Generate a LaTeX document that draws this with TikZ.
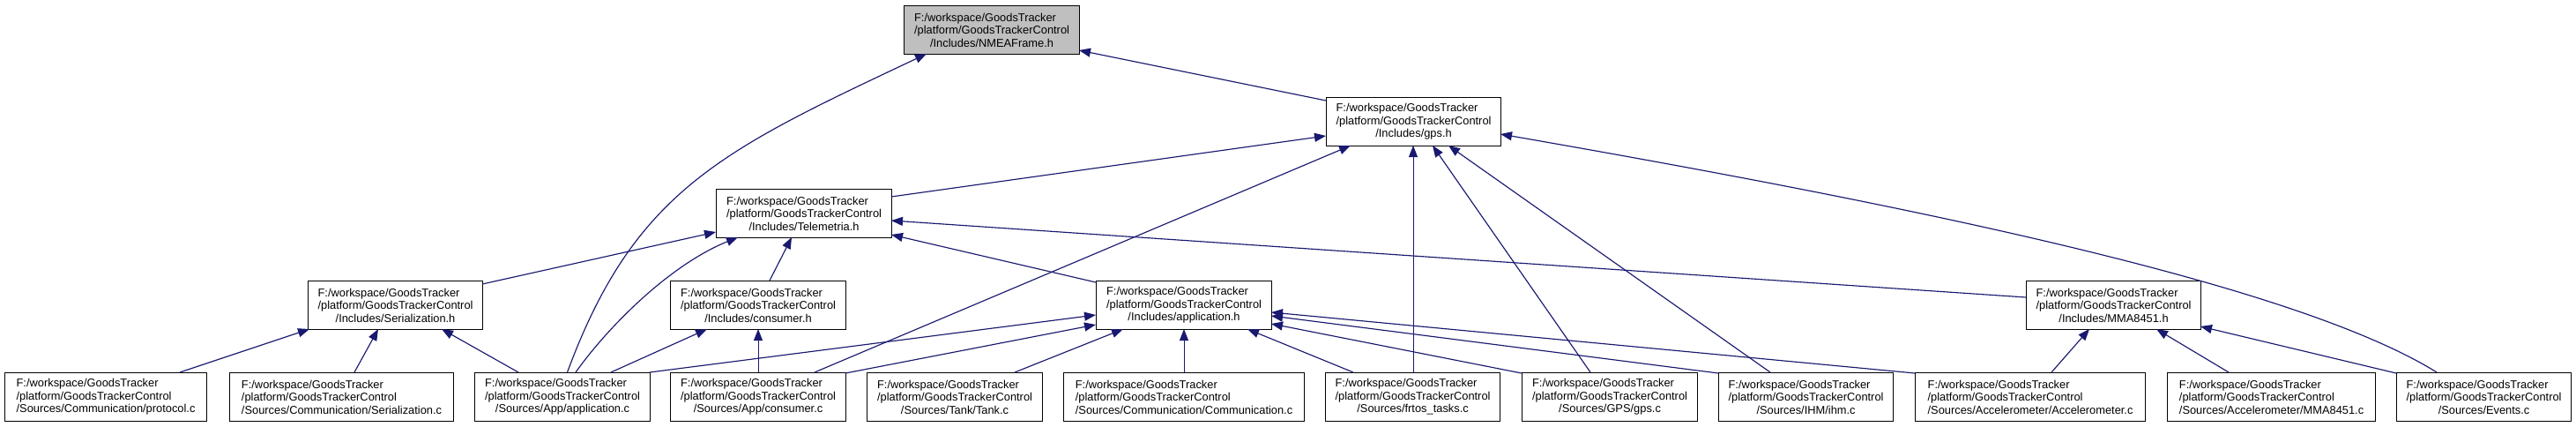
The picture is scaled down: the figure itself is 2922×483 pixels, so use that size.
\documentclass[tikz,border=0pt]{standalone}
\usepackage{fontspec}
\setmainfont{Liberation Sans}
\usetikzlibrary{arrows.meta,calc}
\definecolor{edgeblue}{HTML}{191970}
\definecolor{nodegray}{HTML}{BFBFBF}
\newlength\dwA
\newlength\dwB
\newcommand\dlab[1]{\settowidth\dwA{/platform/GoodsTrackerControl}\settowidth\dwB{#1}\ifdim\dwB>\dwA \dwA=\dwB\fi
  \begin{minipage}{\dwA}\baselineskip=14.5pt\parindent=0pt F:/workspace/GoodsTracker\\/platform/GoodsTrackerControl\par\centering #1\par\end{minipage}}
\begin{document}
\begin{tikzpicture}[x=1pt,y=-1pt,
  box/.style={draw=black, line width=1.1pt, fill=white, anchor=north west,
    minimum height=55pt, inner sep=0pt,
    font=\fontsize{12.85}{14.5}\selectfont},
  edge/.style={draw=edgeblue, line width=1.15pt, -{Triangle[length=13pt,width=10pt]}},
  vedge/.style={edge, line width=0.8pt}]
\fill[white] (0,0) rectangle (2922,483);
\useasboundingbox (0,0) rectangle (2922,483);
% headers
\node[box,fill=nodegray,minimum width=199pt] (nmea) at (1025,6) {\dlab{/Includes/NMEAFrame.h}};
\node[box,minimum width=198pt] (gps) at (1504,110) {\dlab{/Includes/gps.h}};
\node[box,minimum width=199pt] (tel) at (812,214) {\dlab{/Includes/Telemetria.h}};
\node[box,minimum width=198pt] (serh) at (349,318) {\dlab{/Includes/Serialization.h}};
\node[box,minimum width=199pt] (conh) at (760,318) {\dlab{/Includes/consumer.h}};
\node[box,minimum width=199pt] (apph) at (1243,318) {\dlab{/Includes/application.h}};
\node[box,minimum width=198pt] (mmah) at (2298,318) {\dlab{/Includes/MMA8451.h}};
% sources
\node[box,minimum width=229pt] (protc) at (5,422) {\dlab{/Sources/Communication/protocol.c}};
\node[box,minimum width=254pt] (serc) at (260,422) {\dlab{/Sources/Communication/Serialization.c}};
\node[box,minimum width=199pt] (appc) at (538,422) {\dlab{/Sources/App/application.c}};
\node[box,minimum width=199pt] (conc) at (760,422) {\dlab{/Sources/App/consumer.c}};
\node[box,minimum width=199pt] (tankc) at (983,422) {\dlab{/Sources/Tank/Tank.c}};
\node[box,minimum width=273pt] (commc) at (1206,422) {\dlab{/Sources/Communication/Communication.c}};
\node[box,minimum width=198pt] (frtc) at (1503,422) {\dlab{/Sources/frtos\_tasks.c}};
\node[box,minimum width=199pt] (gpsc) at (1726,422) {\dlab{/Sources/GPS/gps.c}};
\node[box,minimum width=198pt] (ihmc) at (1949,422) {\dlab{/Sources/IHM/ihm.c}};
\node[box,minimum width=261pt] (accc) at (2172,422) {\dlab{/Sources/Accelerometer/Accelerometer.c}};
\node[box,minimum width=236pt] (mmac) at (2458,422) {\dlab{/Sources/Accelerometer/MMA8451.c}};
\node[box,minimum width=198pt] (evc) at (2718,422) {\dlab{/Sources/Events.c}};
% edges to NMEAFrame.h
\draw[edge] ([shift={(0,4)}]gps.north west) -- ([shift={(199,51)}]nmea.north west);
\draw[edge] ([shift={(105.5,0)}]appc.north west) .. controls (720,215) and (820,170) .. ([shift={(26,55)}]nmea.north west);
% edges to gps.h
\draw[edge] ([shift={(199,9)}]tel.north west) -- ([shift={(0,44)}]gps.north west);
\draw[edge] ([shift={(164,0)}]conc.north west) -- ([shift={(28,55)}]gps.north west);
\draw[vedge] ([shift={(100,0)}]frtc.north west) -- ([shift={(99,55)}]gps.north west);
\draw[edge] ([shift={(78,0)}]gpsc.north west) -- ([shift={(121,55)}]gps.north west);
\draw[edge] ([shift={(59,0)}]ihmc.north west) -- ([shift={(139,55)}]gps.north west);
\draw[edge] ([shift={(46,0)}]evc.north west) .. controls (2600,320) and (2150,230) .. ([shift={(198,42)}]gps.north west);
% edges to Telemetria.h
\draw[edge] ([shift={(198,4)}]serh.north west) -- ([shift={(0,49)}]tel.north west);
\draw[edge] ([shift={(115,0)}]appc.north west) .. controls (690,370) and (760,300) .. ([shift={(25,55)}]tel.north west);
\draw[edge] ([shift={(113,0)}]conh.north west) -- ([shift={(86,55)}]tel.north west);
\draw[edge] ([shift={(0,2)}]apph.north west) -- ([shift={(199,52)}]tel.north west);
\draw[edge] ([shift={(0,19)}]mmah.north west) -- ([shift={(199,36)}]tel.north west);
% edges to Serialization.h
\draw[edge] ([shift={(199,0)}]protc.north west) -- ([shift={(2,55)}]serh.north west);
\draw[edge] ([shift={(142,0)}]serc.north west) -- ([shift={(80,55)}]serh.north west);
\draw[edge] ([shift={(50,0)}]appc.north west) -- ([shift={(152,55)}]serh.north west);
% edges to consumer.h
\draw[edge] ([shift={(155,0)}]appc.north west) -- ([shift={(42,55)}]conh.north west);
\draw[vedge] ([shift={(100,0)}]conc.north west) -- ([shift={(100,55)}]conh.north west);
% edges to application.h
\draw[edge] ([shift={(199,0)}]appc.north west) -- ([shift={(0,39)}]apph.north west);
\draw[edge] ([shift={(199,1)}]conc.north west) -- ([shift={(0,50)}]apph.north west);
\draw[edge] ([shift={(168,0)}]tankc.north west) -- ([shift={(31,55)}]apph.north west);
\draw[vedge] ([shift={(137,0)}]commc.north west) -- ([shift={(100,55)}]apph.north west);
\draw[edge] ([shift={(32,0)}]frtc.north west) -- ([shift={(172,55)}]apph.north west);
\draw[edge] ([shift={(0,1)}]gpsc.north west) -- ([shift={(199,49)}]apph.north west);
\draw[edge] ([shift={(0,1)}]ihmc.north west) -- ([shift={(199,40)}]apph.north west);
\draw[edge] ([shift={(0,1)}]accc.north west) -- ([shift={(199,36)}]apph.north west);
% edges to MMA8451.h
\draw[edge] ([shift={(155,0)}]accc.north west) -- ([shift={(72,55)}]mmah.north west);
\draw[edge] ([shift={(70,0)}]mmac.north west) -- ([shift={(148,55)}]mmah.north west);
\draw[edge] ([shift={(0,1)}]evc.north west) -- ([shift={(198,52)}]mmah.north west);
\end{tikzpicture}
\end{document}
